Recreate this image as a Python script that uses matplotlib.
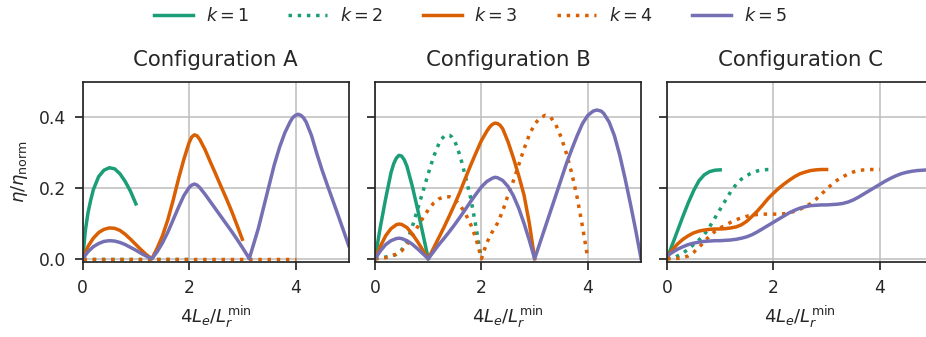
import matplotlib
matplotlib.use('Agg')
import matplotlib.pyplot as plt

# ---- data ----
titles = ['Configuration A', 'Configuration B', 'Configuration C']
labels = ['$k=1$', '$k=2$', '$k=3$', '$k=4$', '$k=5$']
colors = ['#1b9e77', '#1b9e77', '#d95f02', '#d95f02', '#7570b3']
styles = ['-', ':', '-', ':', '-']

# Configuration A
a1_x = [0, 0.05, 0.1, 0.15, 0.2, 0.3, 0.4, 0.5, 0.6, 0.7, 0.8, 0.9, 1.0]
a1_y = [0, 0.08, 0.13, 0.165, 0.195, 0.232, 0.25, 0.257, 0.254, 0.24, 0.218, 0.19, 0.155]
a2_x = [0, 0.5, 1.0, 1.5, 2.0]
a2_y = [0, 0, 0, 0, 0]
a3_x = [0, 0.1, 0.2, 0.3, 0.4, 0.5, 0.6, 0.7, 0.8, 0.9, 1.0, 1.1, 1.2, 1.3,
        1.4, 1.5, 1.6, 1.7, 1.8, 1.9, 2.0, 2.05, 2.1, 2.15, 2.2, 2.3, 2.4, 2.5, 2.6, 2.7,
        2.8, 2.9, 3.0]
a3_y = [0, 0.035, 0.058, 0.074, 0.083, 0.087, 0.086, 0.08, 0.069, 0.055, 0.04, 0.025, 0.011, 0,
        0.03, 0.065, 0.11, 0.165, 0.225, 0.28, 0.328, 0.344, 0.35, 0.347, 0.337, 0.308, 0.273,
        0.239, 0.204, 0.17, 0.134, 0.095, 0.055]
a4_x = [0, 1.0, 2.0, 3.0, 4.0]
a4_y = [0, 0, 0, 0, 0]
a5_x = [0, 0.1, 0.2, 0.3, 0.4, 0.5, 0.6, 0.7, 0.8, 0.9, 1.0, 1.1, 1.2, 1.3,
        1.4, 1.5, 1.6, 1.7, 1.8, 1.9, 2.0, 2.05, 2.1, 2.15, 2.2, 2.3, 2.4, 2.5, 2.6, 2.7, 2.8,
        2.9, 3.0, 3.1, 3.13,
        3.2, 3.3, 3.4, 3.5, 3.6, 3.7, 3.8, 3.9, 3.95, 4.0, 4.05, 4.1, 4.15, 4.2, 4.3, 4.4, 4.5,
        4.6, 4.7, 4.8, 4.9, 5.0]
a5_y = [0, 0.02, 0.034, 0.043, 0.049, 0.051, 0.05, 0.046, 0.04, 0.032, 0.024, 0.015, 0.007, 0,
        0.02, 0.045, 0.075, 0.11, 0.145, 0.178, 0.201, 0.208, 0.211, 0.208, 0.201, 0.182, 0.161,
        0.14, 0.119, 0.098, 0.077, 0.055, 0.032, 0.008, 0,
        0.035, 0.085, 0.145, 0.205, 0.265, 0.315, 0.356, 0.387, 0.399, 0.405, 0.408, 0.405,
        0.398, 0.386, 0.348, 0.297, 0.25, 0.207, 0.165, 0.123, 0.08, 0.037]

# Configuration B
b1_x = [0, 0.1, 0.2, 0.3, 0.35, 0.4, 0.45, 0.5, 0.55, 0.6, 0.7, 0.8, 0.9, 1.0]
b1_y = [0, 0.09, 0.17, 0.243, 0.268, 0.284, 0.292, 0.29, 0.279, 0.261, 0.205, 0.14, 0.07, 0]
b2_x = [0, 0.1, 0.2, 0.3, 0.4, 0.5, 0.6, 0.7, 0.8, 0.9, 1.0, 1.1, 1.2, 1.25, 1.3, 1.36, 1.4,
        1.45, 1.5, 1.6, 1.7, 1.8, 1.9, 1.95, 2.0]
b2_y = [0, 0.002, 0.005, 0.008, 0.012, 0.025, 0.05, 0.09, 0.14, 0.19, 0.24, 0.288, 0.325,
        0.338, 0.346, 0.35, 0.349, 0.343, 0.332, 0.29, 0.232, 0.17, 0.088, 0.042, 0]
b3_x = [0, 0.1, 0.2, 0.3, 0.4, 0.45, 0.5, 0.6, 0.7, 0.8, 0.9, 1.0,
        1.1, 1.2, 1.3, 1.4, 1.5, 1.6, 1.7, 1.8, 1.9, 2.0, 2.1, 2.15, 2.2, 2.25, 2.3, 2.35,
        2.4, 2.5, 2.6, 2.7, 2.8, 2.9, 3.0]
b3_y = [0, 0.035, 0.065, 0.085, 0.096, 0.098, 0.097, 0.088, 0.07, 0.048, 0.024, 0,
        0.03, 0.06, 0.09, 0.122, 0.155, 0.19, 0.228, 0.265, 0.3, 0.334, 0.36, 0.371, 0.379,
        0.383, 0.382, 0.377, 0.367, 0.33, 0.285, 0.235, 0.18, 0.1, 0]
b4_x = [0, 0.1, 0.2, 0.3, 0.4, 0.5, 0.6, 0.7, 0.8, 0.9, 1.0, 1.1, 1.2, 1.3, 1.4, 1.5, 1.6, 1.7,
        1.8, 1.9, 2.0, 2.1, 2.2, 2.3, 2.4, 2.5, 2.6, 2.7, 2.8, 2.9, 3.0, 3.1, 3.2, 3.3, 3.4, 3.5,
        3.6, 3.7, 3.8, 3.9, 4.0]
b4_y = [0, 0.001, 0.003, 0.007, 0.013, 0.022, 0.04, 0.065, 0.09, 0.115, 0.138, 0.157, 0.169,
        0.175, 0.175, 0.167, 0.151, 0.127, 0.096, 0.056, 0, 0.045, 0.075, 0.1, 0.135, 0.18, 0.22,
        0.265, 0.31, 0.35, 0.38, 0.398, 0.405, 0.4, 0.378, 0.342, 0.296, 0.24, 0.172, 0.09, 0]
b5_x = [0, 0.1, 0.2, 0.3, 0.4, 0.45, 0.5, 0.6, 0.7, 0.8, 0.9, 1.0,
        1.1, 1.2, 1.3, 1.4, 1.5, 1.6, 1.7, 1.8, 1.9, 2.0, 2.1, 2.2, 2.25, 2.3, 2.4, 2.5, 2.6,
        2.7, 2.8, 2.9, 3.0,
        3.1, 3.2, 3.3, 3.4, 3.5, 3.6, 3.7, 3.8, 3.9, 4.0, 4.1, 4.17, 4.25, 4.3, 4.4, 4.5, 4.6,
        4.7, 4.8, 4.9, 5.0]
b5_y = [0, 0.022, 0.04, 0.051, 0.057, 0.058, 0.057, 0.051, 0.041, 0.028, 0.014, 0,
        0.02, 0.04, 0.058, 0.077, 0.097, 0.118, 0.14, 0.162, 0.183, 0.203, 0.218, 0.227, 0.23,
        0.229, 0.221, 0.204, 0.178, 0.143, 0.1, 0.052, 0,
        0.045, 0.09, 0.135, 0.18, 0.225, 0.27, 0.31, 0.348, 0.382, 0.405, 0.417, 0.42, 0.417,
        0.41, 0.386, 0.347, 0.292, 0.226, 0.155, 0.08, 0]

# Configuration C
c1_x = [0, 0.1, 0.2, 0.3, 0.4, 0.5, 0.6, 0.7, 0.8, 0.9, 1.0]
c1_y = [0, 0.04, 0.08, 0.12, 0.158, 0.192, 0.22, 0.237, 0.246, 0.25, 0.251]
c2_x = [0, 0.1, 0.2, 0.3, 0.4, 0.5, 0.6, 0.7, 0.8, 0.9, 1.0, 1.1, 1.2, 1.3, 1.4, 1.5, 1.6,
        1.7, 1.8, 1.9, 2.0]
c2_y = [0, 0.002, 0.008, 0.016, 0.027, 0.04, 0.053, 0.068, 0.09, 0.115, 0.14, 0.165, 0.19,
        0.21, 0.225, 0.235, 0.243, 0.248, 0.251, 0.252, 0.252]
c3_x = [0, 0.1, 0.2, 0.3, 0.4, 0.5, 0.6, 0.7, 0.8, 0.9, 1.0, 1.1, 1.2, 1.3, 1.4, 1.5, 1.6,
        1.7, 1.8, 1.9, 2.0, 2.1, 2.2, 2.3, 2.4, 2.5, 2.6, 2.7, 2.8, 2.9, 3.0]
c3_y = [0.005, 0.025, 0.042, 0.055, 0.065, 0.073, 0.078, 0.081, 0.083, 0.084, 0.084, 0.085,
        0.087, 0.09, 0.096, 0.106, 0.12, 0.135, 0.152, 0.17, 0.185, 0.199, 0.211, 0.222, 0.232,
        0.24, 0.245, 0.249, 0.251, 0.252, 0.252]
c4_x = [0, 0.1, 0.2, 0.3, 0.4, 0.5, 0.6, 0.7, 0.8, 0.9, 1.0, 1.1, 1.2, 1.3, 1.4, 1.5, 1.6,
        1.7, 1.8, 1.9, 2.0, 2.1, 2.2, 2.3, 2.4, 2.5, 2.6, 2.7, 2.8, 2.9, 3.0, 3.1, 3.2, 3.3,
        3.4, 3.5, 3.6, 3.7, 3.8, 3.9, 4.0]
c4_y = [0, 0, 0.001, 0.003, 0.008, 0.018, 0.032, 0.048, 0.064, 0.077, 0.087, 0.095, 0.103,
        0.11, 0.116, 0.12, 0.123, 0.125, 0.126, 0.126, 0.126, 0.126, 0.127, 0.13, 0.134, 0.14,
        0.147, 0.156, 0.168, 0.182, 0.197, 0.21, 0.222, 0.231, 0.239, 0.245, 0.249, 0.251,
        0.252, 0.252, 0.252]
c5_x = [0, 0.1, 0.2, 0.3, 0.4, 0.5, 0.6, 0.7, 0.8, 0.9, 1.0, 1.1, 1.2, 1.3, 1.4, 1.5, 1.6,
        1.7, 1.8, 1.9, 2.0, 2.1, 2.2, 2.3, 2.4, 2.5, 2.6, 2.7, 2.8, 2.9, 3.0, 3.1, 3.2, 3.3,
        3.4, 3.5, 3.6, 3.7, 3.8, 3.9, 4.0, 4.1, 4.2, 4.3, 4.4, 4.5, 4.6, 4.7, 4.8, 4.9, 5.0]
c5_y = [0.008, 0.018, 0.027, 0.034, 0.04, 0.044, 0.047, 0.049, 0.05, 0.051, 0.051, 0.052,
        0.053, 0.055, 0.058, 0.062, 0.068, 0.076, 0.085, 0.094, 0.103, 0.112, 0.121, 0.13,
        0.137, 0.143, 0.147, 0.15, 0.151, 0.152, 0.152, 0.153, 0.154, 0.156, 0.16, 0.166,
        0.174, 0.183, 0.192, 0.201, 0.21, 0.219, 0.227, 0.234, 0.24, 0.244, 0.247, 0.249,
        0.25, 0.251, 0.251]

panels = [
    [(a1_x, a1_y), (a2_x, a2_y), (a3_x, a3_y), (a4_x, a4_y), (a5_x, a5_y)],
    [(b1_x, b1_y), (b2_x, b2_y), (b3_x, b3_y), (b4_x, b4_y), (b5_x, b5_y)],
    [(c1_x, c1_y), (c2_x, c2_y), (c3_x, c3_y), (c4_x, c4_y), (c5_x, c5_y)],
]

# ---- style ----
plt.rcParams['font.family'] = 'DejaVu Sans'
plt.rcParams['text.color'] = '#262626'
plt.rcParams['axes.labelcolor'] = '#262626'
plt.rcParams['xtick.color'] = '#262626'
plt.rcParams['ytick.color'] = '#262626'

fig = plt.figure(figsize=(9.26, 3.37), dpi=100)

lefts = [0.0893, 0.405, 0.7203]
axes = []
for i, left in enumerate(lefts):
    ax = fig.add_axes([left, 0.2217, 0.2873, 0.5359])
    for (xs, ys), lab, col, ls in zip(panels[i], labels, colors, styles):
        ax.plot(xs, ys, color=col, linestyle=ls, linewidth=2.5, label=lab)
    ax.set_xlim(0, 5)
    ax.set_ylim(-0.01, 0.5)
    ax.set_xticks([0, 2, 4])
    ax.set_yticks([0.0, 0.2, 0.4])
    ax.grid(True, color='#bdbdbd', linewidth=1.1)
    ax.set_axisbelow(True)
    for sp in ax.spines.values():
        sp.set_color('#262626')
        sp.set_linewidth(1.25)
    ax.tick_params(direction='out', length=6, width=1.25, labelsize=12.3, pad=6)
    ax.set_title(titles[i], fontsize=15.3, pad=11)
    ax.set_xlabel(r'$4L_e/L_r^{\rm min}$', fontsize=13, labelpad=5)
    if i == 0:
        ax.set_ylabel(r'$\eta/\eta_{\rm norm}$', fontsize=13, labelpad=6)
        ax.set_yticklabels(['0.0', '0.2', '0.4'])
    else:
        ax.set_yticklabels([])
    axes.append(ax)

handles, labs = axes[1].get_legend_handles_labels()
fig.legend(handles, labs, loc='upper center', bbox_to_anchor=(0.508, 1.025), ncol=5,
           frameon=False, fontsize=12.6, handlelength=2.23, handletextpad=0.71,
           columnspacing=2.27)

fig.savefig('out.png', dpi=100)
